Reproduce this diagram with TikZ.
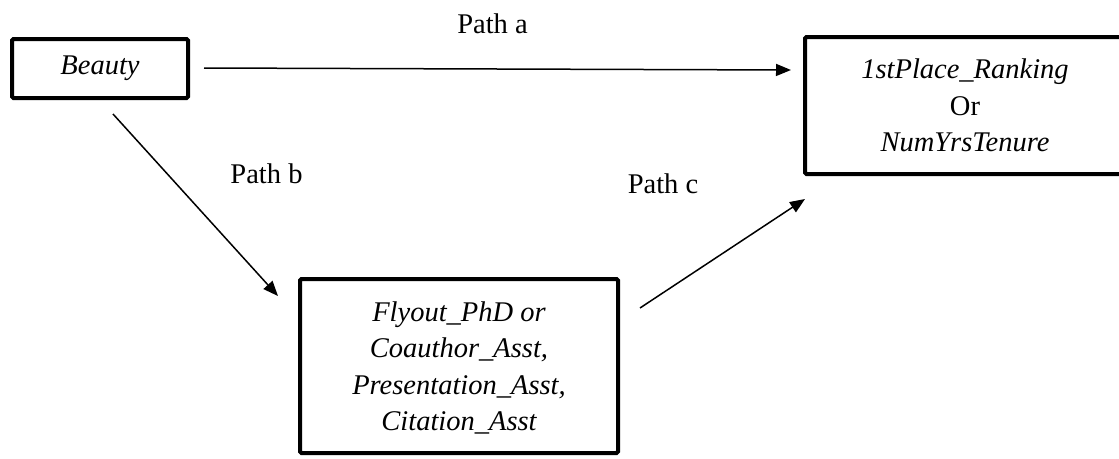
\documentclass[tikz,border=0pt]{standalone}
\usepackage{fontspec}
\setmainfont{Liberation Serif}
\usetikzlibrary{arrows.meta,calc}
\begin{document}
\begin{tikzpicture}[x=1pt,y=-1pt,
  box/.style={draw,line width=4pt,rounded corners=1.5pt,inner sep=0pt,align=center,
    font=\fontsize{28.5}{36.5}\selectfont\itshape},
  arr/.style={line width=1.5pt,-{Triangle[length=15pt,width=12pt]}},
  lbl/.style={font=\fontsize{28.5}{34}\selectfont,anchor=base,inner sep=0pt}]
\useasboundingbox (0,0) rectangle (1119,458);
\node[box,minimum width=176pt,minimum height=59pt] (beauty) at (100,68.5) {Beauty};
\node[box,minimum width=320pt,minimum height=137pt] (outcome) at (965,105.5)
  {1stPlace\_Ranking\\{\upshape Or}\\NumYrsTenure};
\node[box,minimum width=318pt,minimum height=174pt,text depth=0pt] (med) at (459,366)
  {Flyout\_PhD or\\Coauthor\_Asst,\\Presentation\_Asst,\\Citation\_Asst};
% connector end points
\coordinate (a1) at ([shift={(14,-0.5)}]beauty.east);
\coordinate (a2) at ([shift={(-12,-35.5)}]outcome.west);
\coordinate (b1) at ([shift={(103,14)}]beauty.south west);
\coordinate (b2) at ([shift={(-20,19)}]med.north west);
\coordinate (c1) at ([shift={(20,31)}]med.north east);
\coordinate (c2) at ([shift={(2,23)}]outcome.south west);
\draw[arr] (a1) -- (a2);
\draw[arr] (b1) -- (b2);
\draw[arr] (c1) -- (c2);
\node[lbl] (pa) at (492.5,33) {Path a};
\node[lbl] (pb) at (266.5,183) {Path b};
\node[lbl] (pc) at (663,193) {Path c};
\end{tikzpicture}
\end{document}
